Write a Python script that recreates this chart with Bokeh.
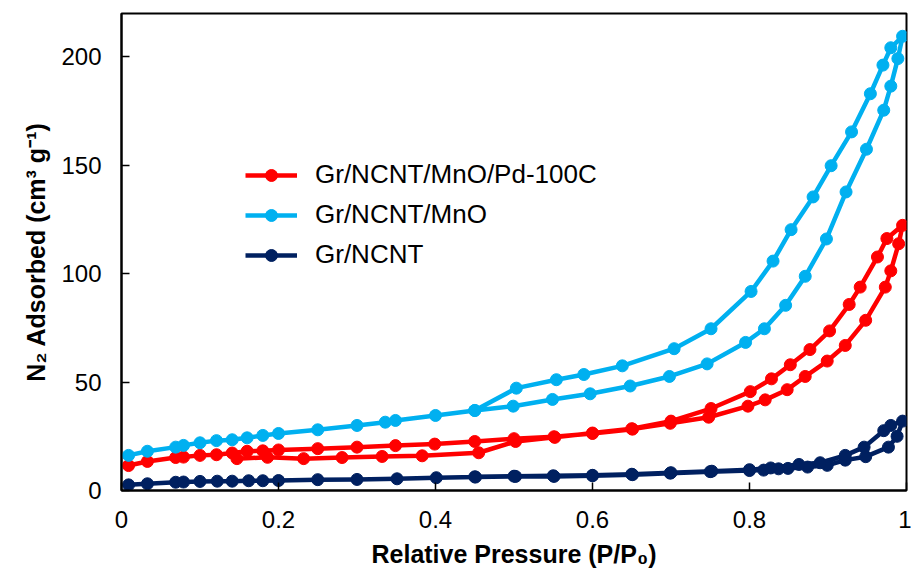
from bokeh.plotting import figure
from bokeh.models import Range1d, FixedTicker, Legend, LegendItem
from bokeh.embed import file_html
from bokeh.resources import INLINE

# Gr/NCNT/MnO/Pd-100C  (adsorption then desorption)
red_x = [0.009, 0.033, 0.069, 0.079, 0.100, 0.121, 0.141, 0.160, 0.180, 0.200,
         0.250, 0.300, 0.349, 0.399, 0.450, 0.500, 0.551, 0.600, 0.651, 0.699,
         0.748, 0.798, 0.820, 0.848, 0.871, 0.899, 0.922, 0.948, 0.973, 0.980,
         0.990, 0.995,
         0.975, 0.963, 0.941, 0.927, 0.902, 0.877, 0.852, 0.828, 0.801, 0.751,
         0.700, 0.650, 0.600, 0.552, 0.502, 0.455, 0.383, 0.332, 0.281, 0.232,
         0.186, 0.147]
red_y = [11.5, 13.4, 15.2, 15.4, 16.2, 16.5, 17.3, 18.1, 18.3, 18.7,
         19.3, 20.0, 20.7, 21.4, 22.6, 23.9, 24.8, 26.3, 28.3, 31.0,
         33.8, 38.9, 41.8, 46.5, 52.6, 59.7, 66.9, 78.5, 93.8, 101.3,
         113.8, 122.3,
         116.2, 107.7, 93.8, 85.8, 73.6, 65.0, 58.0, 51.5, 45.6, 37.8,
         32.0, 28.5, 26.5, 24.5, 22.6, 17.4, 16.0, 15.7, 15.2, 14.7,
         15.3, 14.7]

# Gr/NCNT/MnO
blue_x = [0.009, 0.033, 0.069, 0.079, 0.100, 0.121, 0.141, 0.160, 0.180, 0.200,
          0.250, 0.300, 0.336, 0.349, 0.400, 0.450, 0.499, 0.549, 0.597, 0.648,
          0.698, 0.746, 0.795, 0.819, 0.846, 0.871, 0.898, 0.923, 0.949, 0.971,
          0.980, 0.989, 0.995,
          0.980, 0.970, 0.954, 0.930, 0.904, 0.881, 0.853, 0.830, 0.802, 0.751,
          0.704, 0.638, 0.589, 0.554, 0.503, 0.450]
blue_y = [16.2, 18.1, 20.0, 20.8, 22.0, 23.0, 23.4, 24.3, 25.4, 26.3,
          28.0, 30.0, 31.5, 32.3, 34.6, 36.9, 38.9, 42.0, 44.6, 48.2,
          52.6, 58.4, 68.3, 74.6, 85.4, 98.8, 116.0, 137.7, 157.4, 175.4,
          186.5, 199.2, 209.5,
          204.2, 196.2, 183.0, 165.4, 149.8, 135.4, 120.3, 105.8, 91.8, 74.6,
          65.4, 57.5, 53.5, 51.1, 47.2, 36.9]

# Gr/NCNT
navy_x = [0.009, 0.033, 0.069, 0.079, 0.100, 0.122, 0.141, 0.162, 0.180, 0.200,
          0.250, 0.300, 0.351, 0.401, 0.451, 0.502, 0.551, 0.600, 0.651, 0.699,
          0.750, 0.800, 0.818, 0.837, 0.849, 0.874, 0.899, 0.922, 0.948, 0.977,
          0.988, 0.995,
          0.980, 0.971, 0.946, 0.922, 0.890, 0.863, 0.827, 0.800, 0.752, 0.700,
          0.650, 0.600, 0.550, 0.500, 0.450]
navy_y = [2.6, 3.1, 3.8, 3.9, 4.2, 4.3, 4.3, 4.5, 4.5, 4.6,
          5.0, 5.1, 5.4, 5.9, 6.2, 6.5, 6.5, 6.8, 7.3, 8.0,
          8.7, 9.2, 9.4, 10.0, 10.2, 10.8, 11.6, 14.0, 15.6, 20.0,
          25.0, 32.0,
          30.0, 27.6, 20.0, 16.2, 12.8, 12.0, 10.4, 9.6, 8.9, 8.2,
          7.5, 7.0, 6.8, 6.6, 6.3]

series_names = ["Gr/NCNT/MnO/Pd-100C", "Gr/NCNT/MnO", "Gr/NCNT"]
series_colors = ["#FF0000", "#00B0F0", "#002060"]

x_ticks = [0, 0.2, 0.4, 0.6, 0.8, 1]
x_tick_labels = ["0", "0.2", "0.4", "0.6", "0.8", "1"]
y_ticks = [0, 50, 100, 150, 200]

FONT = "Liberation Sans"

p = figure(width=911, height=574, output_backend="svg", toolbar_location=None,
           x_range=Range1d(0, 1), y_range=Range1d(0, 220),
           min_border_left=121, min_border_right=5, min_border_top=13,
           min_border_bottom=84)
p.grid.visible = False
p.outline_line_color = "black"
p.outline_line_width = 2
p.background_fill_color = "white"
p.border_fill_color = "white"

for ax in (p.xaxis[0], p.yaxis[0]):
    ax.axis_line_width = 2
    ax.axis_line_color = "black"
    ax.major_tick_in = 8
    ax.major_tick_out = 0
    ax.major_tick_line_width = 1.5
    ax.minor_tick_line_color = None
    ax.major_label_text_font = FONT
    ax.major_label_text_font_size = "24px"
    ax.major_label_text_color = "black"
    ax.axis_label_text_font = FONT
    ax.axis_label_text_font_style = "bold"
    ax.axis_label_text_font_size = "25px"
    ax.axis_label_text_color = "black"

p.xaxis.ticker = FixedTicker(ticks=x_ticks)
p.xaxis.major_label_overrides = {t: l for t, l in zip(x_ticks, x_tick_labels)}
p.yaxis.ticker = FixedTicker(ticks=y_ticks)
p.xaxis.axis_label = "Relative Pressure (P/P\u2080)"
p.yaxis.axis_label = "N\u2082 Adsorbed (cm\u00b3 g\u207b\u00b9)"
p.xaxis.major_label_standoff = 20
p.yaxis.major_label_standoff = 20
p.xaxis.axis_label_standoff = 9
p.yaxis.axis_label_standoff = 8

items = []
for name, color, xs, ys in zip(series_names, series_colors,
                               [red_x, blue_x, navy_x], [red_y, blue_y, navy_y]):
    lr = p.line(xs, ys, line_color=color, line_width=4.5, line_join="round")
    sr = p.scatter(xs, ys, marker="circle", size=12, fill_color=color,
                   line_color=color)
    items.append(LegendItem(label=name, renderers=[lr, sr]))

legend = Legend(items=items, location=(124, 220), background_fill_alpha=0,
                border_line_color=None, padding=0, margin=0,
                label_text_font=FONT, label_text_font_size="26px",
                label_text_color="black", glyph_width=52, glyph_height=30,
                label_height=30, label_standoff=18, spacing=9)
p.add_layout(legend, "center")

open("out.html", "w").write(file_html(p, INLINE))
